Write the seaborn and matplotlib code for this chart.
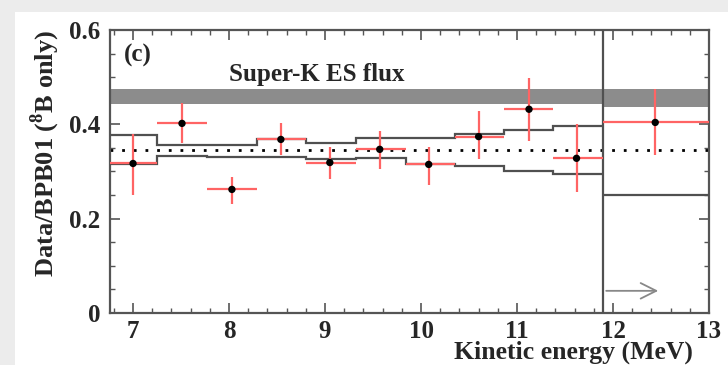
import numpy as np
import matplotlib
matplotlib.use("Agg")
import matplotlib.pyplot as plt
from matplotlib.patches import Rectangle
from matplotlib.ticker import MultipleLocator, FuncFormatter
import seaborn as sns

# ---- data ----
bin_edges = [6.75, 7.25, 7.77, 8.29, 8.80, 9.32, 9.84, 10.35, 10.86, 11.38, 11.90, 13.0]
x_pts = [7.0, 7.51, 8.03, 8.54, 9.05, 9.57, 10.08, 10.60, 11.125, 11.62, 12.44]
y_pts = [0.317, 0.402, 0.262, 0.368, 0.319, 0.347, 0.315, 0.374, 0.432, 0.328, 0.404]
y_hi = [0.379, 0.445, 0.289, 0.402, 0.351, 0.385, 0.353, 0.428, 0.498, 0.400, 0.474]
y_lo = [0.251, 0.360, 0.232, 0.334, 0.285, 0.306, 0.272, 0.326, 0.364, 0.257, 0.336]
band_upper = [0.377, 0.357, 0.356, 0.368, 0.360, 0.370, 0.372, 0.379, 0.389, 0.396]
band_lower = [0.315, 0.332, 0.330, 0.330, 0.326, 0.328, 0.315, 0.311, 0.302, 0.294]
last_lower = 0.251
superk_lo, superk_hi = 0.444, 0.474
superk_lo_last = 0.436
ref_level = 0.345

sns.set_style("ticks")
plt.rcParams["font.family"] = ["Liberation Serif", "DejaVu Serif"]
plt.rcParams["font.weight"] = "bold"
plt.rcParams["mathtext.fontset"] = "custom"
plt.rcParams["mathtext.rm"] = "Liberation Serif:bold"
plt.rcParams["mathtext.bf"] = "Liberation Serif:bold"

fig = plt.figure(figsize=(7.28, 3.65), dpi=100)
fig.patch.set_facecolor("#ececec")
fig.patches.append(Rectangle((15 / 728, 0), 1, 1 - 12 / 365, transform=fig.transFigure,
                             facecolor="white", edgecolor="none", zorder=-10))

ax = fig.add_axes([110 / 728, 1 - 313 / 365, 599 / 728, 283 / 365])
ax.set_facecolor("white")

edges = np.array(bin_edges)
split = edges[-2]

# Super-K band
ax.fill_between([edges[0], split], superk_lo, superk_hi, color="#8c8c8c", lw=0, zorder=1)
ax.fill_between([split, edges[-1]], superk_lo_last, superk_hi, color="#8c8c8c", lw=0, zorder=1)

# reference dotted line
ax.axhline(ref_level, color="black", lw=2, ls=(0, (1, 3.2)), zorder=2)

# systematic band step lines
step_color = "#505050"
ax.stairs(band_upper, edges[:-1], baseline=None, color=step_color, lw=1.6, zorder=3)
ax.stairs(band_lower, edges[:-1], baseline=None, color=step_color, lw=1.6, zorder=3)
ax.stairs([last_lower], edges[-2:], baseline=None, color=step_color, lw=1.6, zorder=3)
ax.axvline(split, color=step_color, lw=1.6, zorder=3)

# error bars
xp = np.array(x_pts)
yp = np.array(y_pts)
xerr_lo = xp - edges[:-1]
xerr_hi = edges[1:] - xp
ax.errorbar(xp, yp, yerr=[yp - np.array(y_lo), np.array(y_hi) - yp],
            xerr=[xerr_lo, xerr_hi], fmt="none", ecolor="#ff6464",
            elinewidth=1.6, capsize=0, zorder=4)
sns.scatterplot(x=xp, y=yp, color="black", s=28, edgecolor="none", zorder=5, ax=ax)

# arrow
ax.annotate("", xy=(12.5, 0.047), xytext=(split, 0.047),
            arrowprops=dict(arrowstyle="->", color="#888888", lw=1.3, mutation_scale=28))

ax.text(6.9, 0.545, "(c)", fontsize=18, fontweight="bold", va="center", ha="left")
ax.text(8.0, 0.506, "Super-K ES flux", fontsize=18, fontweight="bold", va="center", ha="left")

ax.set_xlim(6.76, 13.0)
ax.set_ylim(0, 0.6)
ax.xaxis.set_major_locator(MultipleLocator(1))
ax.xaxis.set_minor_locator(MultipleLocator(0.2))
ax.yaxis.set_major_locator(MultipleLocator(0.2))
ax.yaxis.set_minor_locator(MultipleLocator(0.05))
ax.yaxis.set_major_formatter(FuncFormatter(lambda v, p: "0" if abs(v) < 1e-9 else f"{v:.1f}"))
ax.tick_params(which="both", direction="in", top=True, right=True, color="#555555",
               labelsize=18)
ax.tick_params(axis="x", pad=5)
ax.tick_params(axis="y", pad=7)
ax.tick_params(which="major", length=7, width=1.2)
ax.tick_params(which="minor", length=3.5, width=1.0)
for s in ax.spines.values():
    s.set_color("#555555")
    s.set_linewidth(1.6)

ax.set_xlabel("Kinetic energy (MeV)", fontsize=18.5, fontweight="bold")
ax.xaxis.set_label_coords(0.773, -0.138)
ax.xaxis.label.set_verticalalignment("center")
ax.set_ylabel(r"Data/BPB01 ($^{\mathbf{8}}$B only)", fontsize=19, fontweight="bold")
ax.yaxis.set_label_coords(-0.108, 0.565)
ax.yaxis.label.set_verticalalignment("center")

fig.savefig("out.png", dpi=100, facecolor=fig.get_facecolor())
